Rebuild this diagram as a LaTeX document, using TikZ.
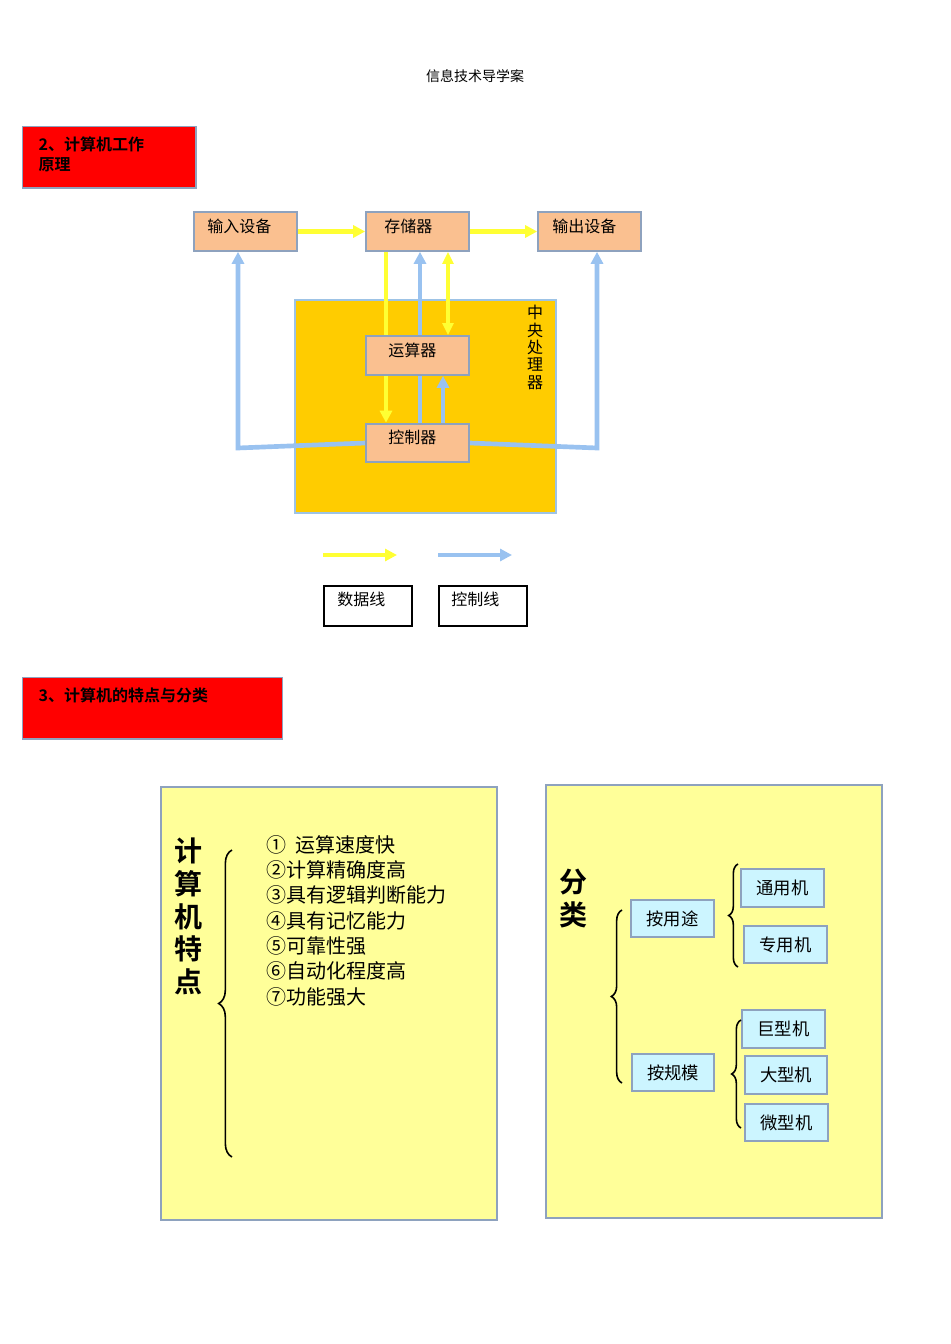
\documentclass[tikz,border=0pt]{standalone}
\usepackage{fontspec}
\setmainfont{Noto Sans CJK SC}
\newfontfamily\cjkb{Noto Sans CJK SC Bold}
\usetikzlibrary{arrows.meta,decorations.pathreplacing}
\definecolor{redh}{HTML}{FF0000}
\definecolor{peach}{HTML}{FAC090}
\definecolor{gbord}{HTML}{8EA2BE}
\definecolor{cpu}{HTML}{FFCC00}
\definecolor{cpub}{HTML}{9DC3E6}
\definecolor{ylw}{HTML}{FFFF33}
\definecolor{blu}{HTML}{99C2F0}
\definecolor{pale}{HTML}{FFFF99}
\definecolor{cyanb}{HTML}{CCF5FF}
\tikzset{
 pbox/.style={draw=gbord,line width=1.5pt,fill=peach,minimum width=77pt,minimum height=29pt,inner sep=0pt},
 ptext/.style={anchor=north west,font=\fontsize{12}{14}\selectfont,inner sep=0pt},
 yarr/.style={draw=ylw,line width=3.5pt,-{Triangle[length=9pt,width=9pt]}},
 yline/.style={draw=ylw,line width=3.5pt},
 ydbl/.style={draw=ylw,line width=3pt,{Triangle[length=9pt,width=8pt]}-{Triangle[length=9pt,width=8pt]}},
 barr/.style={draw=blu,line width=3.5pt,-{Triangle[length=9pt,width=9pt]}},
 cbox/.style={draw=gbord,line width=1.5pt,fill=cyanb,minimum width=62pt,minimum height=28pt,inner sep=0pt,font=\fontsize{13}{15}\selectfont},
 redbox/.style={draw=gbord,line width=1pt,fill=redh,anchor=north west,inner sep=0pt},
 brc/.style={draw,line width=1.2pt,decorate,decoration={brace,amplitude=7pt}},
}
\begin{document}
\begin{tikzpicture}[x=0.75pt,y=-0.75pt]
\useasboundingbox (0,0) rectangle (950,1344);
\node (hdr) at (475,76) {\fontsize{10.5}{12}\selectfont 信息技术导学案};
% section 2
\node[redbox,minimum width=130pt,minimum height=46pt] (r2) at (22,126) {};
\node[anchor=north west,align=left,font=\cjkb\fontsize{12}{15}\selectfont\itshape] (r2t) at (34,132) {2、计算机工作\\原理};
% CPU
\node[draw=cpub,line width=1.5pt,fill=cpu,anchor=north west,minimum width=196pt,minimum height=160pt,inner sep=0pt] (cpu) at (294,299) {};
\node[anchor=north,align=center,font=\fontsize{12}{13}\selectfont,inner sep=0pt] (cput) at (535,305) {中\\央\\处\\理\\器};
\node[pbox] (in) at (245.5,231.5) {};
\node[pbox] (mem) at (417.5,231.5) {};
\node[pbox] (out) at (589.5,231.5) {};
\node[pbox] (alu) at (417.5,355.5) {};
\node[pbox] (ctl) at (417.5,443) {};
\node[ptext] (int) at (207,219) {输入设备};
\node[ptext] (memt) at (384,219) {存储器};
\node[ptext] (outt) at (552,219) {输出设备};
\node[ptext] (alut) at (388,343) {运算器};
\node[ptext] (ctlt) at (388,430) {控制器};
% arrows
\draw[yarr] (in.east) -- (mem.west);
\draw[yarr] (mem.east) -- (out.west);
\draw[yline] (mem.south -| 386,0) -- (alu.north -| 386,0);
\draw[yarr] (alu.south -| 386,0) -- (ctl.north -| 386,0);
\draw[ydbl] (mem.south -| 448,0) -- (alu.north -| 448,0);
\draw[barr] (ctl.north -| 420,0) -- (mem.south -| 420,0);
\draw[barr] (ctl.north -| 443,0) -- (alu.south -| 443,0);
\node[pbox] (alu2) at (417.5,355.5) {};
\node[ptext] at (388,343) {运算器};
\draw[draw=blu,line width=3.5pt,-{Triangle[length=9pt,width=9pt]}] (ctl.west) -- (238,448) -- (in.south -| 238,0);
\draw[draw=blu,line width=3.5pt,-{Triangle[length=9pt,width=9pt]}] (ctl.east) -- (597,448) -- (out.south -| 597,0);
\node[pbox] (ctl2) at (417.5,443) {};
\node[ptext] at (388,430) {控制器};
% legend
\coordinate (ly1) at (323,555); \coordinate (ly2) at (397,555);
\coordinate (lb1) at (438,555); \coordinate (lb2) at (512,555);
\draw[yarr,line width=3pt] (ly1) -- (ly2);
\draw[barr,line width=3pt] (lb1) -- (lb2);
\node[draw,line width=1.5pt,anchor=north west,minimum width=66pt,minimum height=30pt,inner sep=0pt] (dl) at (323,585) {};
\node[draw,line width=1.5pt,anchor=north west,minimum width=66pt,minimum height=30pt,inner sep=0pt] (cl) at (438,585) {};
\node[ptext] (dlt) at (337,592) {数据线};
\node[ptext] (clt) at (451,592) {控制线};
% section 3
\node[redbox,minimum width=195pt,minimum height=46pt] (r3) at (22,677) {};
\node[anchor=north west,font=\cjkb\fontsize{12}{15}\selectfont\itshape] (r3t) at (34,683) {3、计算机的特点与分类};
% left panel
\node[draw=gbord,line width=1.5pt,fill=pale,anchor=north west,minimum width=252pt,minimum height=325pt,inner sep=0pt] (lp) at (160,786) {};
\node[anchor=north,align=center,font=\cjkb\fontsize{21}{24.5}\selectfont,inner sep=0pt] (lpt) at (188,838) {计\\算\\机\\特\\点};
\coordinate (b1a) at (232,1157); \coordinate (b1b) at (232,850);
\draw[brc,decoration={amplitude=10pt}] (b1a) -- (b1b);
\node[anchor=north west,align=left,font=\fontsize{15}{19}\selectfont,inner sep=0pt] (list) at (266,835) {①\ \ 运算速度快\\②计算精确度高\\③具有逻辑判断能力\\④具有记忆能力\\⑤可靠性强\\⑥自动化程度高\\⑦功能强大};
% right panel
\node[draw=gbord,line width=1.5pt,fill=pale,anchor=north west,minimum width=252pt,minimum height=325pt,inner sep=0pt] (rp) at (545,784) {};
\node[anchor=north,align=center,font=\cjkb\fontsize{21}{24.5}\selectfont,inner sep=0pt] (rpt) at (573,869) {分\\类};
\node[cbox] (yt) at (672.5,918.5) {按用途};
\node[cbox] (gm) at (673,1072.5) {按规模};
\node[cbox] (ty) at (782.5,888) {通用机};
\node[cbox] (zy) at (785.5,944.5) {专用机};
\node[cbox] (jx) at (783.5,1029) {巨型机};
\node[cbox] (dx) at (786,1075) {大型机};
\node[cbox] (wx) at (786.5,1122.5) {微型机};
\coordinate (b2a) at (622,1083); \coordinate (b2b) at (622,910);
\draw[brc,decoration={amplitude=8pt}] (b2a) -- (b2b);
\coordinate (b3a) at (738,967); \coordinate (b3b) at (738,864);
\draw[brc] (b3a) -- (b3b);
\coordinate (b4a) at (741,1128); \coordinate (b4b) at (741,1020);
\draw[brc] (b4a) -- (b4b);
\end{tikzpicture}
\end{document}
